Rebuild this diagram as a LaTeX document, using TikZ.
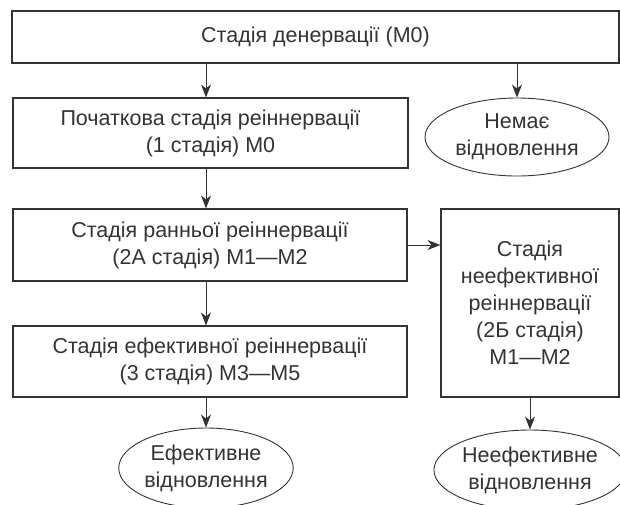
\documentclass[tikz,border=0pt]{standalone}
\usepackage{fontspec}
\setmainfont{Liberation Sans}
\usetikzlibrary{shapes.geometric,arrows.meta}

\definecolor{inkgray}{HTML}{333333}

\tikzset{
    stagebox/.style={draw=inkgray, line width=1.1pt, rectangle, align=center, text=inkgray,
        font=\fontsize{21.5}{27}\selectfont, inner sep=0pt},
    outcome/.style={draw=inkgray, line width=0.9pt, ellipse, align=center, text=inkgray,
        font=\fontsize{21.5}{27}\selectfont, inner sep=0pt},
    flow/.style={draw=inkgray, line width=1pt, -{Stealth[length=13pt,width=10pt,inset=4pt]}}
}

\begin{document}
\begin{tikzpicture}[x=1pt, y=-1pt]
    \clip (0,0) rectangle (620,504);

    % Denervation stage - full width on top
    \node[stagebox, minimum width=607pt, minimum height=52pt] (den) at (315.5,37) {Стадія денервації (М0)};

    % Left column - stages of reinnervation
    \node[stagebox, minimum width=395pt, minimum height=70pt] (init) at (210.5,133) {Початкова стадія реіннервації\\(1 стадія) М0};
    \node[stagebox, minimum width=394pt, minimum height=72pt] (early) at (210,245) {Стадія ранньої реіннервації\\(2А стадія) М1—М2};
    \node[stagebox, minimum width=394pt, minimum height=71pt] (eff) at (210,361.5) {Стадія ефективної реіннервації\\(3 стадія) М3—М5};

    % Right column - ineffective branch
    \node[stagebox, minimum width=178pt, minimum height=188pt] (ineff) at (530,303) {Стадія\\неефективної\\реіннервації\\(2Б стадія)\\М1—М2};

    % Outcomes
    \node[outcome, minimum width=184pt, minimum height=78pt] (none) at (517,137) {Немає\\відновлення};
    \node[outcome, minimum width=170pt, minimum height=80pt] (good) at (206,468) {Ефективне\\відновлення};
    \node[outcome, minimum width=180pt, minimum height=80pt] (bad) at (530,470) {Неефективне\\відновлення};

    % Connections
    \draw[flow] (den.south -| good.north) -- (good.north |- init.north);
    \draw[flow] (den.south -| none.north) -- (none.north);
    \draw[flow] (init.south -| good.north) -- (good.north |- early.north);
    \draw[flow] (early.east) -- (early.east -| ineff.west);
    \draw[flow] (early.south -| good.north) -- (good.north |- eff.north);
    \draw[flow] (eff.south -| good.north) -- (good.north);
    \draw[flow] (ineff.south) -- (bad.north);
\end{tikzpicture}
\end{document}
